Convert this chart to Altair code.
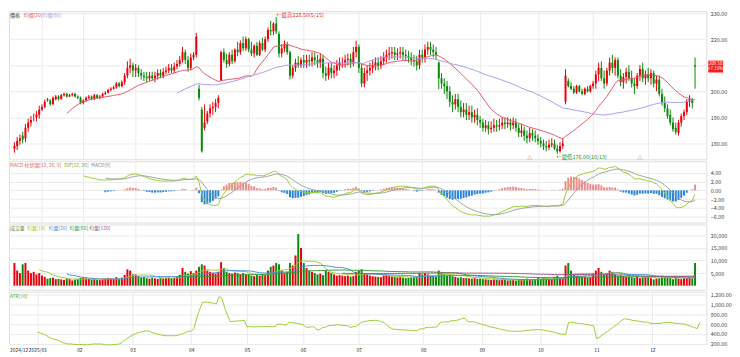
import altair as alt
import pandas as pd
import numpy as np

# ---------------- data ----------------
month_idx = [0, 10, 25, 44, 65, 85, 105, 125, 148, 169, 190, 210, 230]
month_lbl = ["2024/12", "2025/01", "02", "03", "04", "05", "06", "07", "08", "09", "10", "11", "12"]
event_idx = [187, 227]

opens = [
    178, 179, 181, 183, 182, 186, 188, 190, 190, 191,
    193, 194, 197, 196.5, 195, 197, 198, 197, 198.5, 199, 198, 198.5, 199, 198, 197.5,
    195.5, 196.5, 197.5, 198, 197, 198.5, 197.5, 198, 199, 199.5, 200.5, 201, 201.5, 203, 202, 203.5, 206, 209, 210,
    208, 209, 207, 206, 205.5, 205, 206, 205, 206, 207, 206, 207.5, 208, 209, 208, 209.5, 210.5, 212, 215, 212, 209,
    213, 214, 201, 193, 186, 188.5, 191.5, 193.5, 194, 195.5, 204, 215, 212, 210.5, 214, 211.5, 216, 215, 218.5, 216.5,
    220, 216, 214.5, 217.5, 214, 218.5, 216, 220, 223.5, 223, 226, 222, 214.5, 216.5, 218, 215, 206, 209, 211, 210,
    212, 211, 212, 211.5, 213, 212, 211, 212.5, 207, 206, 209, 207, 208, 210, 211, 211, 212, 212.5, 211, 215,
    217, 209, 203, 207, 208, 209, 210, 211, 210, 211.5, 213, 214, 214.5, 215, 214, 214.5, 215, 214, 213.5, 213, 212, 211.5, 210,
    214, 213, 216, 217, 216, 215, 211, 205, 203, 202, 200, 196, 195, 197, 194, 192, 193, 191, 192, 190, 191,
    189, 188, 186, 187, 185.5, 186, 187, 186.5, 187, 188, 187.5, 188, 187, 188, 186, 184, 185, 183, 182, 184, 183,
    182, 181, 180, 179, 178.5, 179.5, 180, 178, 177, 179, 196, 204, 202, 201, 199.5, 202, 200, 199, 201, 200,
    202, 203, 206.5, 209, 205, 203, 208, 211, 209, 212, 206, 203.5, 205.5, 207.5, 205, 203, 202, 206, 208.5, 205,
    206.5, 205, 207, 203, 204.5, 199, 195.5, 193.5, 191, 188, 186, 184, 188, 190.5, 192, 196, 197, 210,
]
highs = [
    180.5, 182.5, 183.5, 184.5, 187.5, 189.5, 190.5, 191.5, 192.5, 194.5,
    195, 196.8, 197.5, 197, 198, 198.6, 198.5, 199, 199.5, 199.5, 199, 199.5, 199.5, 198.5, 198,
    197, 198, 198.6, 198.4, 199, 199, 198.6, 199.5, 200, 201, 201.6, 202.2, 203.6, 203.6, 204.2, 207, 211.5, 212.5, 211,
    210.5, 210, 208.5, 207.5, 207.5, 207.5, 207.5, 207.5, 208.5, 208.5, 209, 209.5, 210.5, 210.5, 211, 212, 213.5, 217, 216, 213.5, 214.5,
    215, 222.4, 202.5, 194, 195, 192.5, 195, 196, 197, 198.5, 215.6, 216.5, 214.5, 215, 216, 216.5, 219, 219.5, 221, 221,
    220.5, 219, 218, 219, 219.5, 220.5, 221, 224.5, 227, 226.5, 228.5, 223, 218, 219.5, 219, 215.6, 210, 212.5, 213.5, 213,
    214, 214, 214, 215, 215, 214, 214.5, 214, 209.5, 211, 211, 210, 212, 213, 213, 214, 214.5, 214.5, 217, 219.4,
    218, 210.5, 209, 210, 211, 212, 213, 213, 213.5, 215, 216, 217, 217, 217, 216.5, 217, 217, 216, 215.5, 215, 214, 213.5, 216,
    216, 218, 219, 219, 218, 217, 211.5, 207, 205, 204, 202, 198.5, 199, 199, 196.5, 195.5, 195.5, 194.5, 194.5, 193, 193.5,
    190.5, 189.5, 189, 188.5, 188.5, 189.5, 189, 189.5, 190, 190, 190, 189.5, 190, 189.5, 187.5, 187.5, 186.5, 185, 186, 185.5, 185,
    183.5, 182.5, 181.5, 181, 181.5, 182, 181.5, 179.5, 180.5, 182, 208.5, 205, 203.5, 202, 202.5, 202.5, 201, 201.5, 202, 202.5,
    204, 208, 211, 211.5, 208, 209, 213, 214, 213, 213, 208.5, 207, 209, 210, 208, 205, 207, 210, 211, 208,
    209, 208.5, 208, 206, 206, 201, 198, 195, 193, 190, 188, 189, 191.5, 193, 197, 198.5, 197.5, 213,
]
lows = [
    176.5, 177.5, 179.5, 180, 180.5, 184.5, 186.5, 188.5, 188.5, 189.5,
    192.5, 193.5, 196, 194.5, 194.8, 196.5, 196.5, 196.8, 198, 197.6, 197.8, 198, 197.6, 197, 195,
    195, 196, 197, 196.6, 196.6, 197, 197, 197.6, 198.6, 199.2, 200, 200.6, 201, 201.5, 201.5, 202.5, 205, 207, 205.5,
    205.5, 205.5, 204.5, 204, 203.5, 204, 204, 203.5, 204.5, 205, 205, 206.5, 207, 207, 207, 208.5, 209.5, 211, 210.5, 207.5, 208,
    212, 213, 196.5, 176.5, 185, 187.5, 190, 191, 192, 193.5, 204, 211, 209, 209.5, 210.5, 211, 213.5, 214, 215.5, 215.5,
    215, 213.5, 213, 213.5, 213.5, 215.5, 215, 219, 221.5, 221.5, 222, 213, 213, 215, 214, 204.6, 205, 207.5, 209, 209,
    209, 209, 209.5, 209.5, 210, 209, 209, 205, 204, 204.5, 205, 205, 206, 208, 209, 209, 210, 209, 209.5, 213,
    207, 201.6, 201.5, 204, 206, 207, 208, 208, 208.5, 210, 211, 212, 212.5, 212, 212, 212.5, 212, 211.5, 211, 210, 209.5, 208, 208.5,
    211, 211, 214, 214, 213, 212, 200.8, 201, 199, 197, 194, 192, 193, 192, 190, 190, 189, 189, 188, 188, 187,
    186, 184.5, 184.5, 183.5, 184, 184.5, 184.5, 185, 185.5, 185.5, 186, 185, 185.5, 184.5, 182.5, 182.5, 181, 180, 180.5, 181, 180.5,
    179.5, 178.5, 177.5, 177, 177.5, 178.5, 177.5, 176, 176.5, 178, 195, 201.5, 200.5, 199, 199, 199.5, 198.5, 198.5, 199.5, 199.5,
    201, 201, 204, 204, 201, 202, 206, 207, 206, 205, 202, 201, 203, 204, 201.5, 199, 201, 204, 203.5, 202.5,
    203.5, 202.5, 201.5, 200, 198, 194.5, 192, 189.5, 187, 184.5, 183.4, 183, 186.5, 189, 191, 194, 193.5, 201,
]
closes = [
    179, 181, 182, 181.5, 186, 188, 189, 190, 191, 193,
    194, 196, 196.5, 195, 197.5, 198, 197, 198.5, 199, 198, 198.5, 199, 198, 197.5, 195.5,
    196.5, 197.5, 198, 197, 198.5, 197.5, 198, 199, 199.5, 200.5, 201, 201.5, 203, 202, 203.5, 206, 209, 210, 208,
    209, 207, 206, 205.5, 205, 206, 205, 206, 207, 206, 207.5, 208, 209, 208, 209.5, 210.5, 212, 215, 212, 209, 213,
    214, 221, 197.5, 177, 188, 191.5, 193.5, 194, 195.5, 197.5, 215, 212, 210.5, 214, 211.5, 216, 215, 218.5, 216.5, 220,
    216, 214.5, 217.5, 214, 218.5, 216, 220, 223.5, 223, 226, 223, 214.5, 216.5, 218, 215, 206, 209, 211, 210, 212,
    211, 212, 211.5, 213, 212, 211, 212.5, 207, 206, 209, 207, 208, 210, 211, 211, 212, 212.5, 211, 215, 217,
    209, 203, 207, 208, 209, 210, 211, 210, 211.5, 213, 214, 214.5, 215, 214, 214.5, 215, 214, 213.5, 213, 212, 211.5, 210, 214,
    213, 216, 217, 216, 215, 214, 205, 203, 202, 200, 196, 195, 197, 194, 192, 193, 191, 192, 190, 191, 189,
    188, 186, 187, 185.5, 186, 187, 186.5, 187, 188, 187.5, 188, 187, 188, 186, 184, 185, 183, 182, 184, 183, 182,
    181, 180, 179, 178.5, 179.5, 180, 178, 177, 179, 180, 206, 202, 201, 199.5, 202, 200, 199, 201, 200, 202,
    203, 206.5, 209, 205, 203, 208, 211, 209, 212, 206, 203.5, 205.5, 207.5, 205, 203, 202, 206, 208.5, 205, 206.5,
    205, 207, 203, 204.5, 199, 195.5, 193.5, 190.5, 188, 185.5, 184.5, 188, 190.5, 192, 196, 197, 195.5, 209.5,
]
volumes = [
    9000, 6000, 5000, 8500, 9000, 6000, 5000, 5500, 4500, 5000,
    4000, 3500, 2800, 3000, 3200, 2600, 2700, 2500, 2300, 2900, 2600, 2100, 2400, 2700, 3100,
    3300, 2900, 2700, 2500, 2600, 2300, 2200, 2500, 2700, 3100, 2900, 2800, 3400, 2700, 3200, 4300, 6500, 6000, 4500,
    4500, 3800, 3200, 3400, 3000, 2800, 3200, 2900, 2700, 3000, 2800, 3100, 3300, 3000, 3200, 3700, 4300, 7000, 5500, 4800, 5800,
    5000, 6000, 7500, 8500, 8000, 6000, 5500, 5000, 4800, 5500, 9300, 7000, 5500, 5000, 4800, 5200, 5000, 4600, 5000, 4500,
    4500, 4000, 3800, 4200, 4000, 4500, 4200, 6000, 7500, 8000, 9000, 8500, 6000, 5000, 5500, 9000, 8000, 12000, 20500, 15000,
    9000, 7000, 6000, 5500, 5000, 4500, 4800, 4200, 6000, 5500, 5000, 4500, 4000, 4200, 4000, 3800, 4000, 3600, 3800, 5500,
    6000, 6500, 5000, 4500, 4000, 3800, 3600, 3500, 3400, 4000, 4200, 3800, 3600, 3500, 3300, 3400, 3200, 3000, 3100, 3300, 3500, 3600, 5000,
    4500, 5000, 4500, 4000, 3800, 3600, 6000, 5000, 4500, 4000, 4200, 3800, 3500, 3200, 3400, 3000, 3100, 2900, 2800, 3000, 2700,
    2800, 2600, 2500, 2400, 2300, 2500, 2400, 2200, 2300, 2400, 2100, 2200, 2300, 2000, 2500, 2400, 2600, 2800, 2500, 2400, 2600,
    3000, 2800, 3200, 3000, 2700, 2600, 3500, 4000, 3000, 2800, 8000, 9000, 6000, 4500, 4000, 3800, 3500, 3600, 3200, 3400,
    5000, 6000, 7000, 5500, 4500, 5000, 6000, 5500, 4500, 4000, 4200, 3800, 3500, 3600, 3400, 3200, 3500, 3000, 3300, 3400,
    3500, 3000, 2500, 2800, 3000, 4000, 3500, 3300, 3000, 2600, 3200, 2800, 2600, 2900, 3000, 3300, 3000, 9000,
]
hi_date, lo_date = "5/15", "10/13"

# ---------------- derived indicators ----------------
n = len(closes)
df = pd.DataFrame({"i": range(n), "o": opens, "h": highs, "l": lows, "c": closes, "v": volumes})
df["ma20"] = df.c.rolling(20).mean()
df["ma60"] = df.c.rolling(60).mean()
ema12 = df.c.ewm(span=12, adjust=False).mean()
ema26 = df.c.ewm(span=26, adjust=False).mean()
dif = ema12 - ema26
sig = dif.ewm(span=9, adjust=False).mean()
df["dif"] = dif.where(df.i >= 25)
df["sig"] = sig.where(df.i >= 33)
df["hist"] = (dif - sig).where(df.i >= 33)
prev = df.c.shift(1)
tr = pd.concat([df.h - df.l, (df.h - prev).abs(), (df.l - prev).abs()], axis=1).max(axis=1)
tr.iloc[0] = np.nan
df["atr"] = tr.rolling(10).mean() * 100
for p in (10, 20, 60, 120):
    df[f"vma{p}"] = df.v.rolling(p).mean()

UP, DOWN = "#e8000b", "#0a8a0a"
GRID = "#ebebeb"
FONT = "Noto Sans CJK TC"
W = 706
FS_AX = 5.5
FS_LG = 5

xs = alt.Scale(domain=[-0.18, 249.3], nice=False, zero=False)
label_expr = "[" + ",".join(f"'{s}'" for s in month_lbl) + "][indexof([" + ",".join(map(str, month_idx)) + "], datum.value)]"
grid_op = {"condition": {"test": "datum.value == 0", "value": 0}, "value": 1}


def X(labels=False):
    return alt.X("i:Q", scale=xs, title=None,
                 axis=alt.Axis(values=month_idx, grid=True, gridColor=GRID, gridOpacity=grid_op,
                               labels=labels, ticks=False, domain=False, labelExpr=label_expr, labelOverlap=False,
                               labelFontSize=5, labelColor="#222", labelPadding=4, labelFlush=8, labelFont=FONT))


def Yax(values, fmt, hide=None):
    expr = f"format(datum.value, '{fmt}')"
    if hide is not None:
        expr = f"datum.value == {hide} ? '' : " + expr
    return alt.Axis(orient="right", values=values, labelExpr=expr, grid=True, gridColor=GRID, ticks=False,
                    domain=False, labelColor="#444", labelFontSize=FS_AX, labelPadding=4, title=None, labelFont=FONT)


def legend(items):
    out = []
    for txt, col, xp in items:
        out.append(alt.Chart(pd.DataFrame({"t": [txt]})).mark_text(
            align="left", baseline="middle", fontSize=FS_LG, color=col, font=FONT
        ).encode(x=alt.value(xp), y=alt.value(4), text="t:N"))
    return out


col_dir = alt.condition("datum.c >= datum.o", alt.value(UP), alt.value(DOWN))

# ---- price panel ----
ys = alt.Scale(domain=[173.94, 230.76], nice=False, zero=False)
pax = Yax([180, 190, 200, 210, 220, 230], ".2f", hide=210)
base = alt.Chart(df)
wick = base.mark_rule(strokeWidth=1).encode(x=X(), y=alt.Y("l:Q", scale=ys, axis=pax), y2="h:Q", color=col_dir)
body = base.mark_bar(size=2).encode(x=X(), y=alt.Y("o:Q", scale=ys, axis=pax), y2="c:Q", color=col_dir)
ma20 = base.mark_line(color="#e8566a", strokeWidth=1).encode(x=X(), y=alt.Y("ma20:Q", scale=ys, axis=pax))
ma60 = base.mark_line(color="#a99be8", strokeWidth=1).encode(x=X(), y=alt.Y("ma60:Q", scale=ys, axis=pax))

ih, il = int(df.h.idxmax()), int(df.l.idxmin())
hl = pd.DataFrame({"i": [ih, il], "p": [df.h.max(), df.l.min()],
                   "t": [f"←最高{df.h.max():.2f}({hi_date})", f"←最低{df.l.min():.2f}({lo_date})"]})
hi_txt = alt.Chart(hl.iloc[[0]]).mark_text(align="left", baseline="middle", fontSize=FS_AX, color="#e03030", dy=-2, font=FONT).encode(
    x=X(), y=alt.Y("p:Q", scale=ys, axis=pax), text="t:N")
lo_txt = alt.Chart(hl.iloc[[1]]).mark_text(align="left", baseline="middle", fontSize=FS_AX, color="#2a8a2a", dx=-1, dy=3, font=FONT).encode(
    x=X(), y=alt.Y("p:Q", scale=ys, axis=pax), text="t:N")

events = alt.Chart(pd.DataFrame({"i": event_idx})).mark_point(
    shape="triangle-up", size=22, filled=False, color="#e8a8a8", strokeWidth=0.8
).encode(x=X(), y=alt.value(148))

chg = (closes[-1] / closes[-2] - 1) * 100
last = pd.DataFrame({"p": [closes[-1]], "t1": [f"{closes[-1]:.2f}"], "t2": [f"{chg:+.2f}%"]})
tag = alt.Chart(last).mark_rect(color="#ff1a1a", height=12, width=15).encode(
    x=alt.value(W + 9.5), y=alt.Y("p:Q", scale=ys, axis=pax))
tag_t1 = alt.Chart(last).mark_text(fontSize=4.5, color="white", dy=-2.7, font=FONT).encode(
    x=alt.value(W + 9.5), y=alt.Y("p:Q", scale=ys, axis=pax), text="t1:N")
tag_t2 = alt.Chart(last).mark_text(fontSize=4.5, color="white", dy=2.7, font=FONT).encode(
    x=alt.value(W + 9.5), y=alt.Y("p:Q", scale=ys, axis=pax), text="t2:N")

price = alt.layer(wick, body, ma20, ma60, events, hi_txt, lo_txt, tag, tag_t1, tag_t2,
                  *legend([("價格", "#333333", 1), ("均價[20]", "#e8566a", 15), ("均價[60]", "#a99be8", 34)])
                  ).properties(width=W, height=150)

# ---- MACD panel ----
ms = alt.Scale(domain=[-7.4, 6.7], nice=False, zero=False)
max_ = Yax([-6, -4, -2, 0, 2, 4], ".2f")
mb = alt.Chart(df)
hist = mb.mark_bar(size=2).encode(
    x=X(), y=alt.Y("hist:Q", scale=ms, axis=max_), y2=alt.datum(0),
    color=alt.condition("datum.hist >= 0", alt.value("#f08a8a"), alt.value("#2a86d8")))
difl = mb.mark_line(color="#9acd32", strokeWidth=1).encode(x=X(), y=alt.Y("dif:Q", scale=ms, axis=max_))
sigl = mb.mark_line(color="#9aa59a", strokeWidth=1).encode(x=X(), y=alt.Y("sig:Q", scale=ms, axis=max_))
macd = alt.layer(hist, difl, sigl,
                 *legend([("MACD 柱狀圖[12, 26, 9]", "#e06060", 1), ("DIF[12, 26]", "#6aaa2a", 56), ("MACD[9]", "#888888", 83)])
                 ).properties(width=W, height=62)

# ---- volume panel ----
vs = alt.Scale(domain=[-1570, 24300], nice=False, zero=False)
vax = Yax([5000, 10000, 15000, 20000], ",d")
vb = alt.Chart(df)
vbar = vb.mark_bar(size=2).encode(x=X(), y=alt.Y("v:Q", scale=vs, axis=vax), y2=alt.datum(0), color=col_dir)
vlines = [vb.mark_line(color=c, strokeWidth=1).encode(x=X(), y=alt.Y(f"vma{p}:Q", scale=vs, axis=vax))
          for p, c in ((10, "#9acd32"), (20, "#4a90d9"), (60, "#3a9a3a"), (120, "#a05a8a"))]
vol = alt.layer(vbar, *vlines,
                *legend([("成交量", "#6a8a2a", 1), ("均量[10]", "#9acd32", 18), ("均量[20]", "#4a90d9", 40),
                         ("均量[60]", "#3a9a3a", 61), ("均量[120]", "#a05a8a", 81)])
                ).properties(width=W, height=66)

# ---- ATR panel ----
as_ = alt.Scale(domain=[198, 1258], nice=False, zero=False)
aax = Yax([200, 400, 600, 800, 1000, 1200], ",.2f")
atrl = alt.Chart(df).mark_line(color="#9acd32", strokeWidth=1).encode(x=X(labels=True), y=alt.Y("atr:Q", scale=as_, axis=aax))
atr = alt.layer(atrl, *legend([("ATR[10]", "#6aaa2a", 1)])).properties(width=W, height=53)

chart = alt.vconcat(price, macd, vol, atr, spacing=2).properties(
    padding={"left": 0, "top": 0, "right": 0, "bottom": 0}, bounds="flush"
).configure_view(stroke="#c8c8c8").configure(font=FONT)

chart.save("out.html", embed_options={"renderer": "svg", "actions": False})
